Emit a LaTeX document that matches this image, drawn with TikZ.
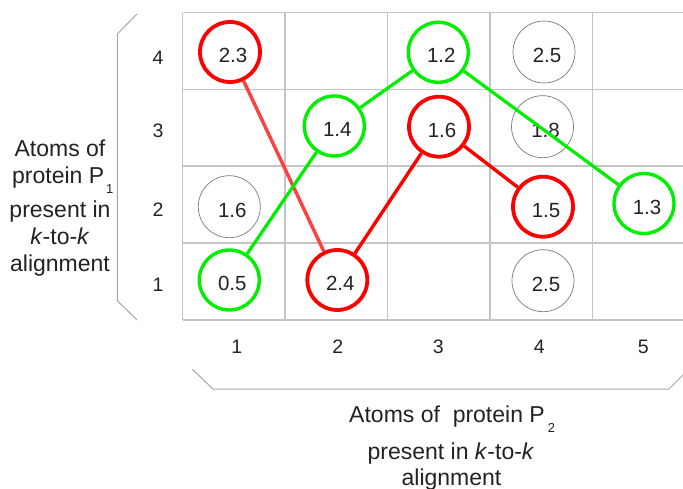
\documentclass[tikz,border=0pt]{standalone}
\usepackage{fontspec}
\setmainfont{Liberation Sans}
\usetikzlibrary{positioning}
\definecolor{Ink}{HTML}{222222}
\definecolor{GridGray}{HTML}{C4C4C4}
\definecolor{BraceGray}{HTML}{A6A6A6}
\definecolor{RingGray}{HTML}{7A7A7A}
\definecolor{RingRed}{HTML}{FF0000}
\definecolor{LinkRed}{HTML}{FF4040}
\definecolor{RingGreen}{HTML}{00EE00}
\newcommand{\ringval}[1]{\hspace*{6pt}\raisebox{-3.5pt}[\height][\depth]{#1}}
\newcommand{\lowidx}[2]{\kern#2\raisebox{-10pt}{\fontsize{13}{13}\selectfont #1}}

\begin{document}
\begin{tikzpicture}[x=1pt,y=-1pt,
  gridline/.style={GridGray,line width=1.2pt},
  bracket/.style={BraceGray,line width=1pt},
  ring/.style={circle,minimum size=60pt,inner sep=0pt,text=Ink,font=\fontsize{20.5}{20.5}\selectfont},
  redring/.style={ring,draw=RingRed,line width=3.8pt},
  greenring/.style={ring,draw=RingGreen,line width=3.4pt},
  grayring/.style={ring,draw=RingGray,line width=0.7pt,minimum size=62pt},
  redlink/.style={RingRed,line width=3.4pt},
  greenlink/.style={RingGreen,line width=3.2pt},
  axisnum/.style={text=Ink,font=\fontsize{19.5}{19.5}\selectfont},
  caption/.style={anchor=base,text=Ink,font=\fontsize{23}{23}\selectfont}]
\useasboundingbox (0,0) rectangle (683,489);
\foreach \y in {12.7,89.3,166,243,320}
  \draw[gridline] (182.5,\y) -- (683,\y);
\foreach \x in {182.5,285,387.5,490,592.5}
  \draw[gridline] (\x,12.7) -- (\x,320);
\draw[bracket] (137,14) -- (117.3,34) -- (117.3,300.7) -- (137,320);
\draw[bracket] (192.3,369.3) -- (213,389) -- (669,389) -- (684,374);
\foreach \n/\y in {4/57.5,3/130.5,2/210,1/285}
  \node[axisnum] (row\n) at (158,\y) {\n};
\foreach \n/\x in {1/236.7,2/337.7,3/438.3,4/539.3,5/643.3}
  \node[axisnum] (col\n) at (\x,346.5) {\n};
\node[redring] (r23) at (230,52) {\ringval{2.3}};
\node[greenring] (g12) at (438.3,52.3) {\ringval{1.2}};
\node[grayring] (k25a) at (544,52) {\ringval{2.5}};
\node[greenring] (g14) at (334.3,126) {\ringval{1.4}};
\node[redring] (r16) at (439,126.7) {\ringval{1.6}};
\node[grayring] (k18) at (542.5,126.7) {\ringval{1.8}};
\node[grayring] (k16) at (229.3,206.7) {\ringval{1.6}};
\node[redring] (r15) at (543,206.7) {\ringval{1.5}};
\node[greenring] (g13) at (644,203.5) {\ringval{1.3}};
\node[greenring] (g05) at (229.3,280) {\ringval{0.5}};
\node[redring] (r24) at (337.3,280) {\ringval{2.4}};
\node[grayring] (k25b) at (543,280.7) {\ringval{2.5}};
\draw[redlink,LinkRed] (r23) -- (r24);
\draw[redlink] (r24) -- (r16);
\draw[redlink] (r16) -- (r15);
\draw[greenlink] (g05) -- (g14);
\draw[greenlink] (g14) -- (g12);
\draw[greenlink] (g12) -- (g13);
\node[caption] (left1) at (60,156.7) {Atoms of};
\node[caption] (left2) at (62.8,184) {protein P\lowidx{1}{2pt}};
\node[caption] (left3) at (60,218) {present in};
\node[caption] (left4) at (60,245) {\textit{k}-to-\textit{k}};
\node[caption] (left5) at (60,271.5) {alignment};
\node[caption,anchor=base west] (bottom1) at (345.7,422.7) {Atoms of~ protein P\lowidx{2}{3pt}};
\node[caption] (bottom2) at (451,459.3) {present in \textit{k}-to-\textit{k}};
\node[caption] (bottom3) at (451.5,485) {alignment};
\end{tikzpicture}
\end{document}
